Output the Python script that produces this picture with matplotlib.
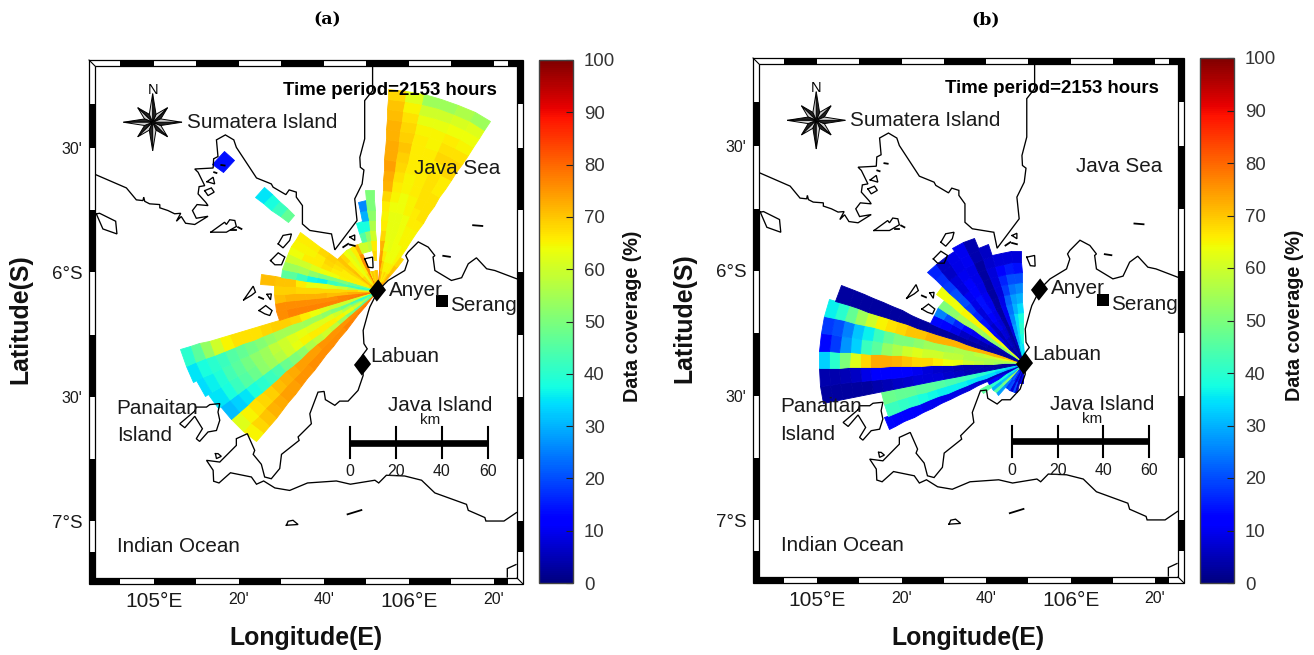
import numpy as np
import matplotlib
matplotlib.use("Agg")
import matplotlib.pyplot as plt
from matplotlib.cm import ScalarMappable
from matplotlib.colors import Normalize
from matplotlib.patches import Polygon, Rectangle

plt.rcParams['font.family'] = ['Liberation Sans', 'DejaVu Sans']

W, H = 1314, 655
N = float('nan')

# ---- radar sites (lon, degrees south)
ANYER = (105.877, 6.072)
LABUAN = (105.816, 6.369)
SERANG = (106.129, 6.116)

BIN_KM = 4.5
BEAM_DEG = 5.0

# ---- panel (a): beam start bearing (deg clockwise from north) and coverage per range bin
A_START = [-142, -137, -132, -127, -122, -117, -112, -107, -102, -97, -92, -87, -82, -77, -72, -67,
           -62, -57, -52, -47, -42, -37, -32, -27, -22, -17, -12, -7, 3, 8, 13, 18, 23, 28, 33]
A_VALUES = [
    [78,78,78,77,77,76,76,76,76,76,75,75,74,74,73,72,70,68,65],
    [76,76,76,76,75,75,75,75,74,74,74,73,72,71,69,68,67,65,62],
    [46,44,46,50,54,58,60,58,56,52,50,48,44,42,40,38,35,33,31],
    [54,57,60,63,65,66,66,66,65,63,60,57,54,52,48,45,42,38,35],
    [44,46,52,56,60,62,62,62,63,62,60,58,54,52,49,46,43,39,36,34],
    [40,40,44,48,50,52,54,54,55,55,55,53,51,49,47,45,42,40,38,35],
    [62,62,60,60,60,62,64,66,68,69,69,68,67,67,67,65,60,53,46,40],
    [78,78,78,77,77,77,77,77,77,76],
    [78,78,77,77,76,76,76,76,76,76],
    [72,72,72,71,71,72,72,72,72,71],
    [62,66,68,68,68,68,68,68,69,69],
    [52,52,56,60,62,63,63,66,70,70,71],
    [38,40,42,44,42,36,37,42,46],
    [48,48,48,50,50,50,52,55,54],
    [63,65,65,65,64,64,62,60,60],
    [68,66,66,66,66,67,66,66,64],
    [68,66,66,66,67,68,66,65,65],
    [70,69,68,68,68,69,68,66,66],
    [72,72,71,70,70,N,N,N,N,N,N,47,42,38,35,N,N,N,N,14],
    [70,68,66,66,68],
    [66,64,64,64,64],
    [66,63,63,62,62],
    [70,68,66,66,66],
    [78,78,76,76,72],
    [66,64,N,N,60],
    [74,70,N,N,60,45,38],
    [72,68,N,N,58,52,38,30,26],
    [72,70,N,68,66,60,56,52,50,50],
    [78,78,76,74,72,68,66,65,66,68,72,73,74,73,73,72,72,71,70,68],
    [73,71,69,66,64,63,63,63,64,65,66,67,68,69,70,69,68,67,65,62],
    [69,66,65,64,63,63,63,63,64,64,65,65,66,66,66,66,65,63,60,54],
    [67,68,65,64,64,64,64,64,65,65,66,66,66,66,66,65,65,63,60,54],
    [68,66,65,64,64,65,65,66,66,67,67,67,67,66,68,67,66,64,61,56],
    [72,68,66,65,65,65,65,66,67,67,67,66,66,68,68,67,65,64,62,54],
    [74,72,70,68],
]
A_LAST_KM = {-127: 87.0, -122: 88.5, -87: 51.0, -82: 42.5, -77: 42.5, -72: 42.5, -67: 42.5, -62: 42.5,
             -57: 42.5, -52: 91.5}

# ---- panel (b)
B_START = [-176.5, -171.5, -166.5, -161.5, -156.5, -151.5, -146.5, -141.5, -136.5, -131.5, -126.5, -121.5,
           -116.5, -111.5, -106.5, -101.5, -96.5, -91.5, -86.5, -81.5, -76.5, -71.5, -66.5, -61.5, -56.5,
           -51.5, -46.5, -41.5, -36.5, -31.5, -26.5, -21.5, -16.5, -11.5, -6.5]
B_VALUES = [
    [8,8],
    [10,12],
    [3,4,6],
    [18,14,20],
    [4,6,8],
    [12,15,20],
    [30,22,18],
    [10,20,25,28],
    [60,55,50,45],
    [30,30,32,30],
    [40,36,38,40,46],
    [5,8,10,12],
    [4,5,6,6,7,8,8,9,9,10,10,11,12,12,13],
    [28,30,32,34,34,35,36,36,36,37,38,40,41,42],
    [32,34,36,38,40,42,43,44,45,46,46,47,47,48],
    [3,3,3,4,4,5,6,7,8,8,8,7,6,5,4,3,3,3,3,3],
    [3,3,3,3,4,4,5,6,7,8,10,12,12,12,11,9,6,5,4,4],
    [50,52,54,56,58,60,63,64,66,68,68,70,72,73,73,68,62,50,40,33],
    [56,56,56,56,56,56,58,58,60,60,62,60,56,53,46,42,33,27,18,13],
    [66,64,62,60,58,56,56,55,54,54,52,50,50,47,42,36,32,25,20,18],
    [70,70,72,72,72,72,72,72,72,72,70,70,68,67,65,60,54,47,40,36],
    [3,3,3,3,3,3,3,3,3,3,3,3,3,3,3,3,3,3,3],
    [3,3,3,3,4,5,6,9,12,13],
    [4,4,5,6,8,10,12,16,20,25],
    [50,50,52,52,53,55,54,55,52,50],
    [62,64,64,65,65,65,65,65,64,64,64],
    [5,6,8,10,12,14,16,18,20,20,18,17,16],
    [3,3,4,5,6,8,8,9,10,8,8,6,6],
    [4,5,6,8,10,12,14,14,12,12,10,9,9],
    [3,4,5,7,8,9,10,10,9,9,9,10,10],
    [2,2,3,3,3,3,3,3,3,3,3,4,4],
    [4,5,6,8,10,10,9,8,8,8,7,6],
    [34,32,30,28,26,24,22,18,16,12,8],
    [36,36,35,34,34,30,28,24,20,15,8],
    [30,34,38,40,38,34,30,26,20,14,8],
]
B_LAST_KM = {-71.5: 87.5, -31.5: 60.0, -26.5: 60.0, -21.5: 55.0, -16.5: 50.0, -11.5: 50.0, -6.5: 50.0,
             -111.5: 64.0, -106.5: 64.0, -116.5: 66.0}

# ---- map (lon, degrees south)
XLIM = (104.770, 106.424)
YLIM = (7.228, 5.170)
XTICKS = [105, 105.3333, 105.6667, 106, 106.3333]
XTICKLABELS = ["105°E", "20'", "40'", "106°E", "20'"]
YTICKS = [5.5, 6, 6.5, 7]
YTICKLABELS = ["30'", "6°S", "30'", "7°S"]
FRAME_LON = [104.869, 105, 105.1667, 105.3333, 105.5, 105.6667, 105.8333, 106, 106.1667, 106.3333, 106.388]
FRAME_LAT = [5.321, 5.5, 5.75, 6, 6.25, 6.5, 6.75, 7, 7.124]

SUMATRA = [(104.771,5.606),(104.893,5.660),(104.932,5.708),(104.958,5.711),(104.961,5.697),(104.965,5.714),
           (104.984,5.724),(105.024,5.727),(105.024,5.740),(105.056,5.751),(105.082,5.764),(105.106,5.762),
           (105.089,5.794),(105.108,5.775),(105.125,5.802),(105.161,5.807),(105.213,5.774),(105.167,5.782),
           (105.152,5.751),(105.170,5.727),(105.213,5.731),(105.204,5.718),(105.174,5.684),(105.178,5.655),
           (105.200,5.651),(105.174,5.597),(105.161,5.584),(105.233,5.580),(105.235,5.543),(105.252,5.534),
           (105.246,5.467),(105.281,5.447),(105.314,5.467),(105.324,5.497),(105.403,5.620),(105.461,5.644),
           (105.468,5.657),(105.518,5.687),(105.531,5.668),(105.559,5.677),(105.559,5.697),(105.583,5.731),
           (105.583,5.805),(105.612,5.831),(105.697,5.845),(105.710,5.909),(105.797,5.791),(105.788,5.704),
           (105.817,5.644),(105.824,5.588),(105.810,5.577),(105.808,5.537),(105.827,5.463),(105.827,5.309),
           (105.858,5.269),(105.858,5.173)]
JAVA = [(106.422,6.025),(106.337,5.992),(106.305,5.985),(106.265,5.941),(106.233,5.965),(106.207,6.021),
        (106.167,6.032),(106.102,5.992),(106.095,5.938),(106.102,5.932),(106.076,5.898),(106.037,5.877),
        (105.997,5.918),(105.988,5.932),(105.997,5.952),(105.984,5.992),(105.919,6.032),(105.880,6.072),
        (105.847,6.139),(105.841,6.159),(105.821,6.233),(105.824,6.286),(105.837,6.307),(105.818,6.333),
        (105.821,6.414),(105.801,6.474),(105.762,6.517),(105.729,6.517),(105.710,6.534),(105.673,6.511),
        (105.668,6.478),(105.644,6.481),(105.612,6.568),(105.618,6.608),(105.566,6.661),(105.570,6.675),
        (105.501,6.731),(105.494,6.788),(105.461,6.829),(105.435,6.822),(105.422,6.771),(105.390,6.731),
        (105.396,6.715),(105.367,6.648),(105.324,6.668),(105.324,6.695),(105.259,6.762),(105.207,6.755),
        (105.233,6.795),(105.235,6.839),(105.256,6.846),(105.301,6.805),(105.383,6.822),(105.403,6.851),
        (105.431,6.838),(105.475,6.866),(105.533,6.876),(105.603,6.846),(105.716,6.838),(105.771,6.851),
        (105.867,6.835),(105.882,6.846),(105.912,6.815),(105.984,6.818),(106.050,6.835),(106.102,6.886),
        (106.226,6.932),(106.233,6.956),(106.298,6.985),(106.302,6.999),(106.373,6.999),(106.422,6.965)]
CORNER = [(106.386,7.224),(106.386,7.190),(106.420,7.174)]
ISLANDS = [
    [(105.161,6.557),(105.167,6.541),(105.207,6.541),(105.220,6.531),(105.259,6.527),(105.252,6.561),
     (105.259,6.594),(105.246,6.635),(105.213,6.641),(105.180,6.679),(105.167,6.668),(105.191,6.628),
     (105.161,6.578),(105.122,6.624),(105.102,6.608),(105.161,6.557)],
    [(105.242,6.728),(105.252,6.728),(105.265,6.739),(105.246,6.748)],
    [(105.520,7.016),(105.527,7.000),(105.546,6.996),(105.566,7.013)],
    [(104.775,5.764),(104.788,5.762),(104.851,5.794),(104.856,5.845),(104.801,5.825)],
    [(105.224,5.838),(105.278,5.798),(105.285,5.807),(105.298,5.788),(105.318,5.791),(105.324,5.815),(105.285,5.838)],
    [(105.200,5.671),(105.226,5.660),(105.237,5.677),(105.213,5.691)],
    [(105.209,5.635),(105.233,5.617),(105.239,5.644)],
    [(105.488,5.885),(105.507,5.851),(105.540,5.845),(105.533,5.871),(105.507,5.901)],
    [(105.458,5.952),(105.488,5.921),(105.514,5.938),(105.501,5.969),(105.475,5.969)],
    [(105.353,6.110),(105.390,6.055),(105.399,6.079),(105.383,6.092)],
    [(105.444,6.088),(105.461,6.086),(105.458,6.110)],
    [(105.413,6.153),(105.439,6.133),(105.464,6.153),(105.455,6.173),(105.435,6.166)],
    [(105.769,5.858),(105.788,5.849),(105.788,5.871)],
    [(105.827,5.945),(105.858,5.938),(105.860,5.981),(105.841,5.979)],
]
DASHES = [
    [(105.760,6.972),(105.814,6.955)],
    [(105.305,5.831),(105.324,5.831)],
    [(105.331,5.818),(105.344,5.825)],
    [(105.413,6.099),(105.429,6.106)],
    [(106.252,5.810),(106.288,5.813)],
    [(106.135,5.933),(106.161,5.937)],
    [(105.743,5.898),(105.762,5.885)],
    [(105.769,5.888),(105.788,5.893)],
    [(105.265,5.568),(105.278,5.570)],
    [(105.237,5.597),(105.246,5.600)],
]
PLACE_LABELS = [
    ("Sumatera Island", 105.129, 5.398),
    ("Java Sea", 106.020, 5.582),
    ("Anyer", 105.922, 6.072),
    ("Serang", 106.161, 6.133),
    ("Labuan", 105.847, 6.337),
    ("Panaitan", 104.855, 6.546),
    ("Island", 104.855, 6.655),
    ("Java Island", 105.918, 6.534),
    ("Indian Ocean", 104.855, 7.100),
]
SCALE_KM = [0, 20, 40, 60]
SCALE_LON0 = 105.769
SCALE_LON_PER_KM = 0.00902
SCALE_LAT = 6.684
COMPASS = (104.996, 5.396)
CBAR_TICKS = list(range(0, 101, 10))

norm = Normalize(0, 100)
cmap = plt.get_cmap('jet')
DIAMOND = [(0.08, 1.3), (1.0, 0.05), (-0.08, -1.3), (-1.0, -0.05), (0.08, 1.3)]


def draw_beams(ax, site, starts, values, last_km):
    for start, vals in zip(starts, values):
        vals = np.array(vals, dtype=float)
        edges = np.arange(len(vals) + 1) * BIN_KM
        if start in last_km:
            edges[-1] = last_km[start]
        th = np.radians([start, start + BEAM_DEG])
        T, R = np.meshgrid(th, edges, indexing='ij')
        X = site[0] + R * np.sin(T) / 111.0
        Y = -site[1] + R * np.cos(T) / 111.0
        ax.pcolormesh(X, Y, vals[np.newaxis, :], cmap=cmap, norm=norm, shading='flat',
                      antialiased=True, edgecolors='face', linewidth=0.6, zorder=2)


def line(ax, pts, closed=False, lw=0.95):
    p = np.array(pts)
    if closed:
        p = np.vstack([p, p[:1]])
    ax.plot(p[:, 0], -p[:, 1], color='k', lw=lw, solid_joinstyle='miter', zorder=3)


def draw_frame(ax, tx, ty):
    xb = [XLIM[0]] + FRAME_LON + [XLIM[1]]
    yb = [YLIM[1]] + FRAME_LAT + [YLIM[0]]
    for i in range(len(xb) - 1):
        top = 'k' if i % 2 else 'w'
        bot = 'w' if i % 2 else 'k'
        ax.axvspan(xb[i], xb[i + 1], ymin=1, ymax=1 + ty, color=top, lw=0, clip_on=False, zorder=5)
        ax.axvspan(xb[i], xb[i + 1], ymin=-ty, ymax=0, color=bot, lw=0, clip_on=False, zorder=5)
    for i in range(len(yb) - 1):
        left = 'k' if i % 2 else 'w'
        right = 'w' if i % 2 else 'k'
        ax.axhspan(-yb[i], -yb[i + 1], xmin=-tx, xmax=0, color=left, lw=0, clip_on=False, zorder=5)
        ax.axhspan(-yb[i], -yb[i + 1], xmin=1, xmax=1 + tx, color=right, lw=0, clip_on=False, zorder=5)
    # corner squares
    tr = ax.transAxes
    for (x0, y0, c) in [(-tx, 1, 'w'), (1, 1, 'k'), (-tx, -ty, 'k'), (1, -ty, 'w')]:
        ax.add_patch(Rectangle((x0, y0), tx, ty, transform=tr, fc=c, ec='none', clip_on=False, zorder=5))
    ax.add_patch(Rectangle((-tx, -ty), 1 + 2 * tx, 1 + 2 * ty, transform=tr, fill=False, ec='k', lw=0.9,
                           clip_on=False, zorder=6))
    ax.add_patch(Rectangle((0, 0), 1, 1, transform=tr, fill=False, ec='k', lw=0.9, clip_on=False, zorder=6))
    ax.plot([-tx, 0], [1 + ty, 1], transform=tr, color='k', lw=0.8, clip_on=False, zorder=6)
    ax.plot([1, 1 + tx], [0, -ty], transform=tr, color='k', lw=0.8, clip_on=False, zorder=6)


def draw_compass(ax, lon0, lat0):
    rx, ry = 0.115, 0.115
    for k in [1, 3, 5, 7, 0, 2, 4, 6]:
        a = np.radians(45 * k)
        L = 1.0 if k % 2 == 0 else 0.72
        tip = (lon0 + L * rx * np.sin(a), -lat0 + L * ry * np.cos(a))
        for sgn, col in [(1, '#222222'), (-1, '#d0d0d0')]:
            b = a + sgn * np.radians(22.5)
            side = (lon0 + 0.3 * rx * np.sin(b), -lat0 + 0.3 * ry * np.cos(b))
            ax.add_patch(Polygon([(lon0, -lat0), tip, side], closed=True, fc=col, ec='k', lw=0.7, zorder=4))
    ax.text(lon0, -lat0 + 0.131, "N", ha='center', va='center', fontsize=10.5, zorder=7)


def draw_panel(box, cbox, site_beams, title, title_xy, xl_xy, yl_xy, cl_xy):
    left, top, right, bottom = box
    ax = fig.add_axes([left / W, 1 - bottom / H, (right - left) / W, (bottom - top) / H])
    ax.set_xlim(XLIM)
    ax.set_ylim(-YLIM[0], -YLIM[1])
    draw_beams(ax, *site_beams)
    line(ax, SUMATRA)
    line(ax, JAVA)
    line(ax, CORNER)
    for isl in ISLANDS:
        line(ax, isl, closed=True)
    for d in DASHES:
        line(ax, d, lw=1.3)
    draw_compass(ax, *COMPASS)
    for site in (ANYER, LABUAN):
        ax.plot(site[0], -site[1], marker=DIAMOND, ms=16, color='k', mew=0, zorder=4, clip_on=False)
    ax.plot(SERANG[0], -SERANG[1], marker='s', ms=8, color='k', mew=0, zorder=4)
    for txt, lo, la in PLACE_LABELS:
        ax.text(lo, -la, txt, fontsize=14.9, va='center', ha='left', color='#1a1a1a', zorder=7)
    ax.text(105.506, -5.269, "Time period=2153 hours", fontsize=13.4, fontweight='bold', va='center', ha='left', zorder=7)

    # scale bar
    sx = [SCALE_LON0 + k * SCALE_LON_PER_KM for k in SCALE_KM]
    ax.plot([sx[0], sx[-1]], [-SCALE_LAT, -SCALE_LAT], color='k', lw=4.8, solid_capstyle='butt', zorder=4)
    for x, k in zip(sx, SCALE_KM):
        ax.plot([x, x], [-SCALE_LAT + 0.063, -SCALE_LAT - 0.063], color='k', lw=1.5, zorder=4)
        ax.text(x, -SCALE_LAT - 0.117, str(k), ha='center', va='center', fontsize=11.4, color='#1a1a1a', zorder=7)
    ax.text(sx[1] + 0.5 * (sx[2] - sx[1]) + 0.045, -SCALE_LAT + 0.09, "km", ha='center', va='center', fontsize=11, color='#1a1a1a', zorder=7)

    ax.set_xticks(XTICKS)
    ax.set_xticklabels(XTICKLABELS)
    ax.set_yticks([-v for v in YTICKS])
    ax.set_yticklabels(YTICKLABELS)
    ax.tick_params(axis='both', length=0)
    ax.tick_params(axis='x', pad=10)
    ax.tick_params(axis='y', pad=9)
    for lab in ax.get_xticklabels():
        lab.set_fontsize(15 if '°' in lab.get_text() else 11.5)
        lab.set_color('#1a1a1a')
    for lab in ax.get_yticklabels():
        lab.set_fontsize(13.5 if '°' in lab.get_text() else 11.5)
        lab.set_color('#1a1a1a')
    for sp in ax.spines.values():
        sp.set_visible(False)
    draw_frame(ax, 6.0 / (right - left), 6.0 / (bottom - top))

    cl, ct, cr, cb = cbox
    cax = fig.add_axes([cl / W, 1 - cb / H, (cr - cl) / W, (cb - ct) / H])
    cbar = fig.colorbar(ScalarMappable(norm=norm, cmap=cmap), cax=cax, ticks=CBAR_TICKS)
    cbar.ax.tick_params(direction='in', length=5, width=0.8, color='#222222', labelsize=13.4,
                        labelcolor='#333333', pad=8)
    cbar.outline.set_edgecolor('#444444')
    cbar.outline.set_linewidth(1.0)

    fig.text(title_xy[0] / W, 1 - title_xy[1] / H, title, family='DejaVu Serif', fontweight='bold',
             fontsize=12.5, ha='center', va='center', color='k')
    fig.text(xl_xy[0] / W, 1 - xl_xy[1] / H, "Longitude(E)", fontweight='bold', fontsize=17.9, ha='center', va='center', color='#111111')
    fig.text(yl_xy[0] / W, 1 - yl_xy[1] / H, "Latitude(S)", fontweight='bold', fontsize=17.9, ha='center', va='center', rotation=90, color='#111111')
    fig.text(cl_xy[0] / W, 1 - cl_xy[1] / H, "Data coverage (%)", fontweight='bold', fontsize=14.2, ha='center', va='center', rotation=90, color='#111111')


fig = plt.figure(figsize=(W / 100, H / 100), dpi=100, facecolor='white')
draw_panel((95, 66, 517, 578), (539, 60, 573, 583), (ANYER, A_START, A_VALUES, A_LAST_KM),
           "(a)", (327, 20), (306, 638), (20, 319), (633, 316))
draw_panel((759, 64, 1178, 577), (1200, 58, 1234, 583), (LABUAN, B_START, B_VALUES, B_LAST_KM),
           "(b)", (986, 20), (968, 638), (684, 318), (1295, 315))
fig.savefig('out.png', dpi=100)
